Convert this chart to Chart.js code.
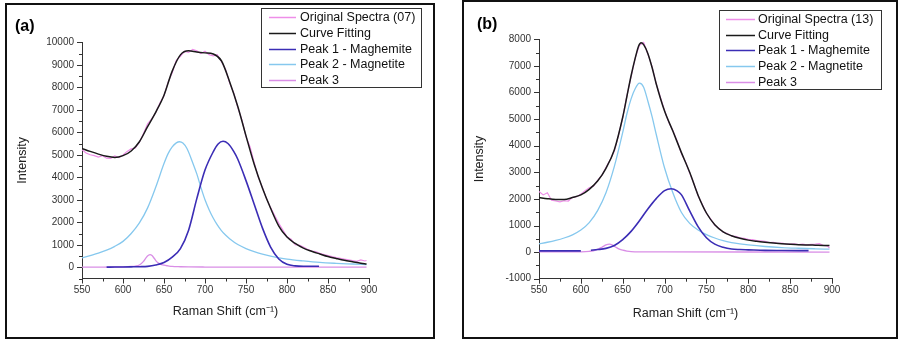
<!DOCTYPE html>
<html><head><meta charset="utf-8">
<script src="https://cdn.jsdelivr.net/npm/chart.js@4.4.1/dist/chart.umd.min.js"></script>
<style>
html,body{margin:0;padding:0;background:#fff;width:898px;height:340px;overflow:hidden;}
.panel{position:absolute;border:2px solid #111;background:#fff;}
#pa{left:5px;top:3px;width:426px;height:332px;}
#pb{left:462px;top:0px;width:432px;height:335px;}
canvas{display:block;}
</style></head><body>
<div class="panel" id="pa"><canvas id="ca" width="426" height="332"></canvas></div>
<div class="panel" id="pb"><canvas id="cb" width="432" height="335"></canvas></div>
<script>
// ---------------- Panel (a) data ----------------
const labelsA = ["Original Spectra (07)", "Curve Fitting", "Peak 1 - Maghemite", "Peak 2 - Magnetite", "Peak 3"];
const xOrigA = [550,555,560,565,570,575,580,585,590,595,600,605,610,615,620,625,630,635,640,645,650,655,660,665,670,675,680,685,690,695,700,705,710,715,720,725,730,735,740,745,750,755,760,765,770,775,780,785,790,795,800,805,810,815,820,825,830,835,840,845,850,855,860,865,870,875,880,885,890,895,897];
const origA = [5230,5080,5000,4960,4900,4960,4850,4840,4950,4880,4990,5150,5260,5300,5560,5950,6380,6600,6880,7300,7620,8230,8650,9200,9380,9600,9550,9680,9620,9500,9600,9450,9400,9450,9150,8800,8200,7750,7100,6550,5800,5350,4650,4000,3550,3050,2650,2300,1950,1650,1350,1250,1000,980,900,800,720,700,620,560,520,470,430,400,360,330,300,260,330,280,300];
const xFitA = [550,560,570,580,590,600,610,620,630,640,650,660,670,680,690,700,710,720,730,740,750,760,770,780,790,800,810,820,830,840,850,860,870,880,890,897];
const fitA = [5280,5150,5030,4930,4880,4960,5170,5580,6250,6900,7650,8720,9440,9620,9570,9530,9480,9180,8250,7150,5840,4580,3520,2620,1830,1340,1060,850,710,590,475,390,310,245,180,145];
const xP1A = [580,590,600,610,620,630,640,650,660,670,680,690,700,710,716,722,728,735,740,750,760,770,780,790,800,810,820,830,839];
const p1A = [5,8,12,18,25,40,100,210,450,830,1650,3050,4320,5130,5480,5600,5500,5150,4800,3850,2800,1750,900,370,130,60,45,45,45];
const xP2A = [550,560,570,580,590,600,610,620,630,640,650,655,660,665,669,673,678,685,690,695,700,705,710,715,720,725,730,740,750,760,770,780,790,800,820,840,860,880,897];
const p2A = [415,520,630,760,930,1150,1500,1970,2640,3570,4610,5050,5350,5530,5580,5520,5280,4650,4150,3550,3000,2560,2190,1880,1630,1430,1270,1010,830,690,580,490,420,360,280,215,175,145,120];
const xP3A = [550,570,590,600,610,615,620,625,628,631,633,635,638,641,645,650,655,660,670,680,700,750,800,897];
const p3A = [5,8,12,20,35,50,100,260,420,530,560,530,400,250,150,90,60,35,22,15,10,5,3,2];
const yTicksA = {min: -500, max: 10000, minor: 500, major: 1000};

// ---------------- Panel (b) data ----------------
const labelsB = ["Original Spectra (13)", "Curve Fitting", "Peak 1 - Maghemite", "Peak 2 - Magnetite", "Peak 3"];
const xOrigB = xOrigA.slice();
const origB = [2280,2150,2230,1950,1920,1890,1930,1920,2060,2080,2180,2310,2420,2480,2700,2880,3180,3470,3800,4400,5060,5880,6600,7300,7780,7880,7450,6980,6330,5820,5320,4880,4560,4180,3720,3400,2970,2580,2120,1800,1460,1250,1010,900,750,700,600,590,540,520,480,470,430,420,400,360,370,330,340,310,300,310,280,300,270,290,300,320,250,220,150];
const xFitB = [550,560,570,580,590,600,610,620,630,640,650,655,660,665,669,672,675,680,685,690,700,710,720,730,740,750,760,770,780,790,800,810,820,830,840,850,860,870,880,890,897];
const fitB = [2050,2010,1980,1975,2050,2150,2360,2670,3150,3850,5070,5850,6630,7300,7750,7870,7800,7470,6950,6330,5300,4540,3750,3000,2140,1470,1030,760,615,520,450,405,370,340,315,295,278,268,260,252,248];
const xP1B = [550,560,570,580,590,600,606,612,620,630,640,650,660,670,680,690,700,708,715,720,730,740,750,760,770,780,790,800,820,840,872];
const p1B = [45,45,45,45,45,47,null,70,95,140,250,470,780,1180,1620,2010,2310,2380,2300,2160,1550,960,540,300,180,115,95,85,65,60,55];
const xP2B = [550,560,570,580,590,600,610,620,630,640,650,655,660,665,670,675,680,685,690,700,710,720,730,740,750,760,770,780,790,800,820,840,860,880,897];
const p2B = [313,370,440,530,650,830,1110,1560,2230,3220,4500,5200,5760,6150,6350,6200,5680,5100,4430,3160,2220,1500,1080,830,660,530,430,360,310,270,210,170,145,125,110];
const xP3B = [550,590,600,610,615,620,625,630,634,638,642,646,650,655,660,670,700,800,897];
const p3B = [5,8,12,30,50,100,180,270,300,260,180,110,70,40,20,8,5,3,2];
const yTicksB = {min: -1000, max: 8000, minor: 500, major: 1000};

const xTicks = {min: 550, max: 900, minor: 25, major: 50};

// ---------------- helpers ----------------
const FONT = '"Liberation Sans", Arial, Helvetica, sans-serif';
const pts = (xs, ys) => xs.map((x, i) => ({x: x, y: ys[i]}));

const minorTicks = {
  id: 'minorTicks',
  afterDraw(chart, args, opts) {
    const ctx = chart.ctx, a = chart.chartArea;
    ctx.save();
    ctx.strokeStyle = '#333';
    ctx.lineWidth = 1;
    const xs = chart.scales.x, ys = chart.scales.y;
    xs.ticks.forEach(t => {
      const p = Math.round(xs.getPixelForValue(t.value)) + 0.5;
      const len = (t.value % opts.xMajor === 0) ? 5 : 3;
      ctx.beginPath(); ctx.moveTo(p, a.bottom); ctx.lineTo(p, a.bottom + len); ctx.stroke();
    });
    ys.ticks.forEach(t => {
      const p = Math.round(ys.getPixelForValue(t.value)) + 0.5;
      const len = (t.value % opts.yMajor === 0) ? 5 : 3;
      ctx.beginPath(); ctx.moveTo(a.left, p); ctx.lineTo(a.left - len, p); ctx.stroke();
    });
    ctx.restore();
  }
};

const boxLegend = {
  id: 'boxLegend',
  afterDraw(chart, args, o) {
    const ctx = chart.ctx;
    ctx.save();
    ctx.textBaseline = 'middle';
    ctx.textAlign = 'left';
    ctx.fillStyle = '#000';
    ctx.font = 'bold 16px ' + FONT;
    ctx.fillText(o.panel, o.panelX, o.panelY);
    ctx.fillStyle = '#fff';
    ctx.fillRect(o.x, o.y, o.w, o.h);
    ctx.strokeStyle = '#333';
    ctx.lineWidth = 1;
    ctx.strokeRect(o.x + 0.5, o.y + 0.5, o.w - 1, o.h - 1);
    ctx.font = '12.5px ' + FONT;
    chart.data.datasets.forEach((ds, i) => {
      const cy = Math.round(o.y + o.firstRow + i * o.rowGap) + 0.5;
      ctx.strokeStyle = ds.borderColor;
      ctx.lineWidth = 1.5;
      ctx.beginPath(); ctx.moveTo(o.x0, cy); ctx.lineTo(o.x1, cy); ctx.stroke();
      ctx.fillStyle = '#111';
      ctx.fillText(ds.label, o.tx, cy);
    });
    ctx.restore();
  }
};

function makeChart(id, labels, series, yT, L, geo) {
  const styles = [
    {c: '#ee8ee8', w: 1.2, order: 4, smooth: false},
    {c: '#1a1a1a', w: 1.5, order: 0, smooth: true},
    {c: '#3b2db5', w: 1.6, order: 1, smooth: true},
    {c: '#86c8ee', w: 1.3, order: 2, smooth: true},
    {c: '#d98ee6', w: 1.3, order: 3, smooth: true}
  ];
  const datasets = series.map((s, i) => ({
    label: labels[i],
    data: pts(s[0], s[1]),
    borderColor: styles[i].c,
    backgroundColor: styles[i].c,
    borderWidth: styles[i].w,
    pointRadius: 0,
    fill: false,
    spanGaps: false,
    order: styles[i].order,
    tension: styles[i].smooth ? 0.3 : 0,
    cubicInterpolationMode: styles[i].smooth ? 'monotone' : 'default'
  }));
  return new Chart(document.getElementById(id), {
    type: 'line',
    data: {datasets: datasets},
    options: {
      responsive: false,
      animation: false,
      events: [],
      devicePixelRatio: 1,
      layout: {padding: {top: geo.top, right: geo.right, left: 0, bottom: 0}},
      plugins: {
        legend: {display: false},
        tooltip: {enabled: false},
        minorTicks: {xMajor: xTicks.major, yMajor: yT.major},
        boxLegend: L
      },
      scales: {
        x: {
          type: 'linear',
          min: xTicks.min, max: xTicks.max,
          afterFit: s => { s.height = geo.xh; },
          grid: {display: true, drawOnChartArea: false, drawTicks: false},
          border: {display: true, color: '#333', width: 1},
          ticks: {
            stepSize: xTicks.minor, autoSkip: false, maxRotation: 0, padding: 6,
            color: '#333', font: {family: FONT, size: 10},
            callback: v => (v % xTicks.major === 0 ? String(v) : '')
          },
          title: {display: true, text: 'Raman Shift (cm\u207B\u00B9)', color: '#222',
                  font: {family: FONT, size: 12.5}, padding: {top: 0, bottom: geo.xtPad}}
        },
        y: {
          type: 'linear',
          min: yT.min, max: yT.max,
          afterFit: s => { s.width = 75; },
          grid: {display: true, drawOnChartArea: false, drawTicks: false},
          border: {display: true, color: '#333', width: 1},
          ticks: {
            stepSize: yT.minor, autoSkip: false, padding: 8,
            color: '#333', font: {family: FONT, size: 10},
            callback: v => (v % yT.major === 0 ? String(v) : '')
          },
          title: {display: true, text: 'Intensity', color: '#222',
                  font: {family: FONT, size: 12.5}, padding: {top: 8.5, bottom: 0}}
        }
      }
    },
    plugins: [minorTicks, boxLegend]
  });
}

makeChart('ca', labelsA,
  [[xOrigA, origA], [xFitA, fitA], [xP1A, p1A], [xP2A, p2A], [xP3A, p3A]],
  yTicksA,
  {panel: '(a)', panelX: 8, panelY: 22, x: 254, y: 3, w: 161, h: 80, firstRow: 9.3, rowGap: 15.7, x0: 262, x1: 289, tx: 293},
  {top: 37.3, right: 64, xh: 58.5, xtPad: 17.5});

makeChart('cb', labelsB,
  [[xOrigB, origB], [xFitB, fitB], [xP1B, p1B], [xP2B, p2B], [xP3B, p3B]],
  yTicksB,
  {panel: '(b)', panelX: 13, panelY: 23, x: 255, y: 8, w: 163, h: 80, firstRow: 9, rowGap: 15.7, x0: 262, x1: 291, tx: 294},
  {top: 37.3, right: 64, xh: 58.3, xtPad: 15.5});
</script>
</body></html>
